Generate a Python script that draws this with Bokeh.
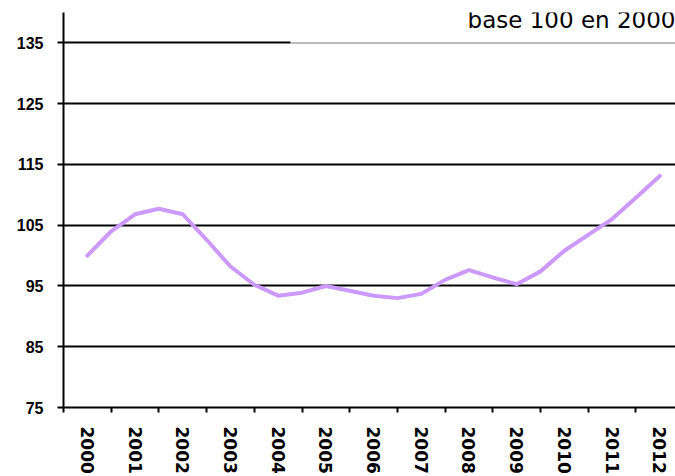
from bokeh.plotting import figure
from bokeh.models import FixedTicker, Label, Range1d
from bokeh.embed import file_html
from bokeh.resources import INLINE

# ---- data ----
year_labels = ["2000", "2001", "2002", "2003", "2004", "2005", "2006",
               "2007", "2008", "2009", "2010", "2011", "2012"]
periods = [2000.0, 2000.5, 2001.0, 2001.5, 2002.0, 2002.5, 2003.0, 2003.5,
           2004.0, 2004.5, 2005.0, 2005.5, 2006.0, 2006.5, 2007.0, 2007.5,
           2008.0, 2008.5, 2009.0, 2009.5, 2010.0, 2010.5, 2011.0, 2011.5,
           2012.0]
index_values = [100.0, 104.0, 106.8, 107.7, 106.8, 102.6, 98.2, 95.2,
                93.4, 93.9, 95.0, 94.2, 93.4, 93.0, 93.7, 96.0,
                97.6, 96.4, 95.3, 97.4, 100.8, 103.4, 106.0, 109.5,
                113.1]
y_ticks = [75, 85, 95, 105, 115, 125, 135]
subtitle = "base 100 en 2000"

# ---- layout constants ----
X_START = 1999.5
X_END = 2012.33
Y_START = 75
Y_END = 140
COVER_LEFT = 2004.26

years = [int(y) for y in year_labels]

p = figure(width=675, height=476, output_backend="svg", toolbar_location=None,
           x_range=Range1d(X_START, X_END), y_range=Range1d(Y_START, Y_END),
           min_border_left=63, min_border_right=0, min_border_top=12,
           min_border_bottom=68)
p.outline_line_color = None
p.background_fill_color = "white"
p.border_fill_color = "white"

# x axis: labels at category centres, ticks at boundaries
xaxis = p.xaxis[0]
xaxis.ticker = FixedTicker(ticks=years,
                           minor_ticks=[y - 0.5 for y in years])
xaxis.major_label_overrides = {y: lab for y, lab in zip(years, year_labels)}
xaxis.major_tick_out = 0
xaxis.major_tick_in = 0
xaxis.minor_tick_out = 5
xaxis.minor_tick_in = 0
xaxis.minor_tick_line_color = "black"
xaxis.minor_tick_line_width = 2
xaxis.axis_line_color = "black"
xaxis.axis_line_width = 2
xaxis.major_label_orientation = "vertical"
xaxis.major_label_standoff = 14
xaxis.major_label_text_font = "DejaVu Sans"
xaxis.major_label_text_font_style = "bold"
xaxis.major_label_text_font_size = "17px"
xaxis.major_label_text_color = "black"

yaxis = p.yaxis[0]
yaxis.ticker = FixedTicker(ticks=y_ticks, minor_ticks=[])
yaxis.major_tick_out = 6
yaxis.major_tick_in = 0
yaxis.major_tick_line_width = 2
yaxis.major_tick_line_color = "black"
yaxis.minor_tick_line_color = None
yaxis.axis_line_color = "black"
yaxis.axis_line_width = 2
yaxis.major_label_standoff = 14
yaxis.major_label_text_font = "Liberation Sans"
yaxis.major_label_text_font_style = "bold"
yaxis.major_label_text_font_size = "16px"
yaxis.major_label_text_color = "black"

p.xgrid.grid_line_color = None
p.ygrid.grid_line_color = "black"
p.ygrid.grid_line_width = 2

# title box edge covering the top grid line on the right
p.segment(x0=[COVER_LEFT], y0=[y_ticks[-1]], x1=[X_END], y1=[y_ticks[-1]],
          line_color="white", line_width=4)
p.segment(x0=[COVER_LEFT], y0=[y_ticks[-1]], x1=[X_END], y1=[y_ticks[-1]],
          line_color="#a6a6a6", line_width=1.5)

p.line(periods, index_values, line_color="#CC99FF", line_width=4,
       line_join="round", line_cap="round")

p.add_layout(Label(x=X_END, y=138.8, text=subtitle, text_align="right",
                   text_baseline="alphabetic", text_font="DejaVu Sans",
                   text_font_size="23px", text_color="black"))

open("out.html", "w").write(file_html(p, INLINE))
